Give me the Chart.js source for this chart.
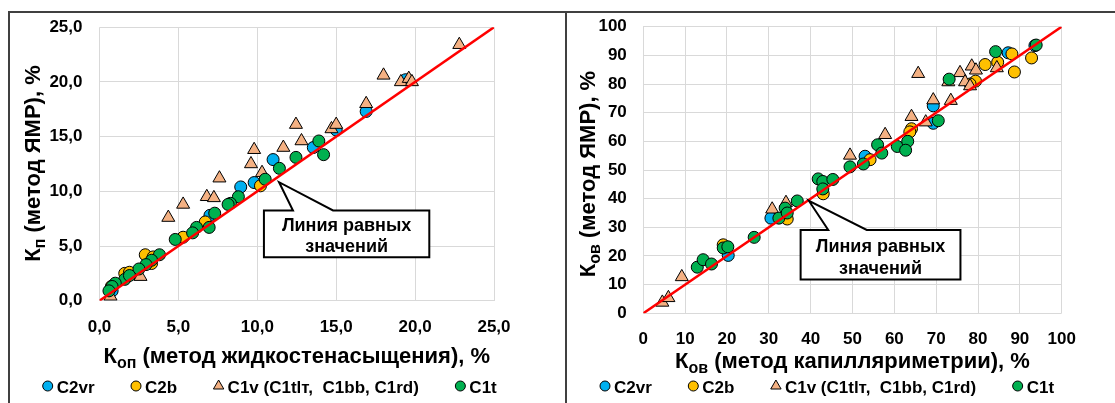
<!DOCTYPE html>
<html>
<head>
<meta charset="utf-8">
<script src="https://cdn.jsdelivr.net/npm/chart.js@4.4.1/dist/chart.umd.min.js"></script>
<style>
  body { margin: 0; background: #fff; }
  .wrap { position: relative; width: 1115px; height: 403px; overflow: hidden; }
  canvas { position: absolute; top: 0; }
  .ln { position: absolute; background: #404040; }
</style>
</head>
<body>
<div class="wrap">
  <canvas id="left" width="560" height="403" style="left:0"></canvas>
  <canvas id="right" width="555" height="403" style="left:560px"></canvas>
  <div class="ln" style="left:8px;top:11px;width:1107px;height:2px"></div>
  <div class="ln" style="left:8px;top:11px;width:2px;height:392px"></div>
  <div class="ln" style="left:565px;top:11px;width:2px;height:392px"></div>
</div>
<script>
// --- dados: porosidade (Кп) ---
const poroTicks = ['0,0', '5,0', '10,0', '15,0', '20,0', '25,0'];
const poroC2vr = [[16.9,17.3],[13.55,14.0],[11.0,12.9],[8.95,10.4],[9.8,10.8],[7.0,7.8],[15.0,15.6],[19.4,20.2],[0.8,0.9]];
const poroC2b = [[10.2,10.5],[6.7,7.2],[5.3,5.8],[2.9,4.2],[3.4,4.0],[1.6,2.5],[1.9,2.6],[0.75,1.3],[3.3,3.4]];
const poroC1v = [[22.8,23.4],[18.0,20.6],[19.1,20.0],[19.6,20.3],[19.8,20.0],[16.9,18.0],[14.7,15.7],[15.0,16.1],
  [12.45,16.1],[12.8,14.6],[11.65,14.0],[9.8,13.8],[9.6,12.5],[10.3,11.7],[7.6,11.2],[5.3,8.8],[4.36,7.6],
  [6.8,9.5],[7.25,9.4],[0.7,0.4],[2.6,2.2]];
const poroC1t = [[13.9,14.6],[14.2,13.35],[12.45,13.1],[11.4,12.1],[10.5,11.1],[8.8,9.5],[8.3,8.9],[8.15,8.8],
  [7.3,8.0],[6.95,6.7],[6.15,6.7],[5.9,6.2],[4.8,5.6],[3.8,4.2],[3.3,3.7],[2.95,3.3],[2.5,2.9],[1.6,1.95],
  [1.9,2.3],[1.0,1.6],[0.8,1.3],[0.6,0.9]];

// --- dados: saturação (Ков) ---
const satTicks = ['0', '10', '20', '30', '40', '50', '60', '70', '80', '90', '100'];
const satC2vr = [[30.5,33.2],[20.3,20.2],[53.0,54.8],[69.3,72.4],[69.3,66.3],[87.2,90.9],[93.6,93.4]];
const satC2b = [[19.1,23.9],[34.4,32.9],[43.0,41.7],[54.2,53.6],[64.1,64.4],[63.7,63.3],[81.7,86.8],[84.7,87.6],
  [88.1,90.5],[88.7,84.2],[92.8,89.1],[79.4,81.0],[78.1,80.0]];
const satC1v = [[4.55,3.8],[6.0,5.4],[9.2,12.7],[30.8,36.3],[34.1,38.6],[49.4,55.1],[57.8,62.3],[64.1,68.6],
  [67.5,66.7],[65.7,83.6],[69.3,74.4],[73.5,74.2],[72.9,80.7],[75.7,83.9],[76.9,80.7],[78.5,86.2],[79.5,84.8],
  [78.1,79.3],[84.5,85.6]];
const satC1t = [[12.9,16.1],[14.3,18.7],[16.3,17.2],[19.1,22.8],[20.2,23.2],[26.5,26.5],[32.4,33.2],[33.9,36.7],
  [34.4,35.0],[36.8,39.2],[41.8,46.9],[42.9,46.0],[42.9,43.4],[45.3,46.7],[49.4,51.1],[52.6,52.1],[56.0,58.8],
  [57.0,55.9],[60.7,58.2],[63.2,60.0],[62.7,56.9],[70.5,67.2],[73.1,81.7],[84.2,91.3],[93.9,93.6]];

const seriesNames = ['C2vr', 'C2b', 'C1v (C1tlт,  C1bb, C1rd)', 'C1t'];
const seriesColors = ['#00B0F0', '#FFC000', '#F4B183', '#00B050'];
const seriesStyles = ['circle', 'circle', 'triangle', 'circle'];

const FONT = '"Liberation Sans", Arial, sans-serif';

function pts(arr) { return arr.map(p => ({x: p[0], y: p[1]})); }

function drawMarker(ctx, style, color, x, y, r) {
  ctx.save();
  ctx.fillStyle = color;
  ctx.strokeStyle = '#000';
  ctx.lineWidth = 1;
  ctx.beginPath();
  if (style === 'triangle') {
    ctx.moveTo(x, y - r);
    ctx.lineTo(x + r * 0.866, y + r * 0.5);
    ctx.lineTo(x - r * 0.866, y + r * 0.5);
    ctx.closePath();
  } else {
    ctx.arc(x, y, r, 0, Math.PI * 2);
  }
  ctx.fill();
  ctx.stroke();
  ctx.restore();
}

// texto com subscrito: parts = [[texto, sub?], ...]
function drawRich(ctx, parts, cx, baseline) {
  var big = 'bold 22px ' + FONT, small = 'bold 16px ' + FONT;
  var w = 0;
  parts.forEach(p => { ctx.font = p[1] ? small : big; w += ctx.measureText(p[0]).width; });
  var x = cx - w / 2;
  ctx.fillStyle = '#000';
  ctx.textAlign = 'left';
  ctx.textBaseline = 'alphabetic';
  parts.forEach(p => {
    ctx.font = p[1] ? small : big;
    ctx.fillText(p[0], x, baseline + (p[1] ? 5 : 0));
    x += ctx.measureText(p[0]).width;
  });
}

const overlay = {
  id: 'overlay',
  afterDatasetsDraw(chart, args, o) {
    // caixa "Линия равных значений"
    var ctx = chart.ctx, xs = chart.scales.x, ys = chart.scales.y;
    var bx1 = xs.getPixelForValue(o.box[0]), bx2 = xs.getPixelForValue(o.box[1]);
    var by1 = ys.getPixelForValue(o.box[2]), by2 = ys.getPixelForValue(o.box[3]);
    var w1 = xs.getPixelForValue(o.wedge[0]), w2 = xs.getPixelForValue(o.wedge[1]);
    var tx = xs.getPixelForValue(o.tip[0]), ty = ys.getPixelForValue(o.tip[1]);
    ctx.save();
    ctx.beginPath();
    ctx.moveTo(bx1, by1);
    ctx.lineTo(w1, by1);
    ctx.lineTo(tx, ty);
    ctx.lineTo(w2, by1);
    ctx.lineTo(bx2, by1);
    ctx.lineTo(bx2, by2);
    ctx.lineTo(bx1, by2);
    ctx.closePath();
    ctx.fillStyle = '#fff';
    ctx.fill();
    ctx.lineWidth = 2;
    ctx.strokeStyle = '#000';
    ctx.lineJoin = 'miter';
    ctx.stroke();
    ctx.fillStyle = '#000';
    ctx.font = 'bold 18px ' + FONT;
    ctx.textAlign = 'center';
    ctx.textBaseline = 'alphabetic';
    var h = by2 - by1, cx = (bx1 + bx2) / 2;
    ctx.fillText('Линия равных', cx, by1 + h * 0.45);
    ctx.fillText('значений', cx, by1 + h * 0.88);
    ctx.restore();
  },
  afterDraw(chart, args, o) {
    var ctx = chart.ctx, a = chart.chartArea;
    ctx.save();
    drawRich(ctx, o.xTitle, (a.left + a.right) / 2, o.xTitleY);
    ctx.save();
    ctx.translate(o.yTitleX, o.yTitleCy);
    ctx.rotate(-Math.PI / 2);
    drawRich(ctx, o.yTitle, 0, 0);
    ctx.restore();
    // legenda
    var x = o.legendX;
    ctx.font = 'bold 17px ' + FONT;
    ctx.textAlign = 'left';
    ctx.textBaseline = 'alphabetic';
    seriesNames.forEach((name, i) => {
      drawMarker(ctx, seriesStyles[i], seriesColors[i], x, 386, seriesStyles[i] === 'triangle' ? 6 : 5);
      ctx.fillStyle = '#000';
      ctx.fillText(name, x + 9, 393);
      x += 9 + ctx.measureText(name).width + 41.5;
    });
    ctx.restore();
  }
};

function makeChart(id, sets, max, step, ticks, geo, ov) {
  var data = [];
  sets.forEach((s, i) => {
    data.push({
      type: 'scatter',
      label: seriesNames[i],
      data: pts(s),
      pointStyle: seriesStyles[i],
      pointRadius: seriesStyles[i] === 'triangle' ? 7.5 : 6,
      pointBackgroundColor: seriesColors[i],
      pointBorderColor: '#000',
      pointBorderWidth: 1,
      order: 4 - i
    });
  });
  data.push({
    type: 'line',
    label: 'line',
    data: [{x: 0, y: 0}, {x: max, y: max}],
    borderColor: '#FF0000',
    borderWidth: 2.5,
    pointRadius: 0,
    order: 0
  });
  var tickFont = {family: FONT, size: 17, weight: 'bold'};
  return new Chart(document.getElementById(id), {
    type: 'scatter',
    data: {datasets: data},
    plugins: [overlay],
    options: {
      responsive: false,
      animation: false,
      layout: {padding: {left: 0, top: geo.top, right: geo.right, bottom: 0}},
      scales: {
        x: {
          type: 'linear', min: 0, max: max,
          ticks: {stepSize: step, padding: geo.xPad, color: '#000', font: tickFont,
                  callback: (v, i) => ticks[i]},
          grid: {color: '#D9D9D9', lineWidth: 1, drawTicks: false},
          border: {display: false},
          afterFit: s => { s.height = geo.xH; }
        },
        y: {
          type: 'linear', min: 0, max: max,
          ticks: {stepSize: step, padding: geo.yPad, color: '#000', font: tickFont,
                  callback: (v, i) => ticks[i]},
          grid: {color: '#D9D9D9', lineWidth: 1, drawTicks: false},
          border: {display: false},
          afterFit: s => { s.width = geo.yW; }
        }
      },
      plugins: {legend: {display: false}, tooltip: {enabled: false}, overlay: ov}
    }
  });
}

makeChart('left', [poroC2vr, poroC2b, poroC1v, poroC1t], 25, 5, poroTicks,
  {top: 26, right: 66, xH: 102.3, yW: 99.5, xPad: 16, yPad: 17},
  {
    box: [10.42, 20.9, 8.25, 3.98], wedge: [12.26, 14.8], tip: [11.38, 10.83],
    xTitle: [['К', false], ['оп', true], [' (метод жидкостенасыщения), %', false]],
    yTitle: [['К', false], ['п', true], [' (метод ЯМР), %', false]],
    xTitleY: 363, yTitleX: 39.5, yTitleCy: 163.5, legendX: 47.7
  });

makeChart('right', [satC2vr, satC2b, satC1v, satC1t], 100, 10, satTicks,
  {top: 24.3, right: 53.3, xH: 89.7, yW: 83.3, xPad: 16, yPad: 16.5},
  {
    box: [37.6, 75.8, 29.1, 11.8], wedge: [44.2, 53.4], tip: [39.6, 39.2],
    xTitle: [['К', false], ['ов', true], [' (метод капилляриметрии), %', false]],
    yTitle: [['К', false], ['ов', true], [' (метод ЯМР), %', false]],
    xTitleY: 368, yTitleX: 34.5, yTitleCy: 174, legendX: 45
  });
</script>
</body>
</html>
